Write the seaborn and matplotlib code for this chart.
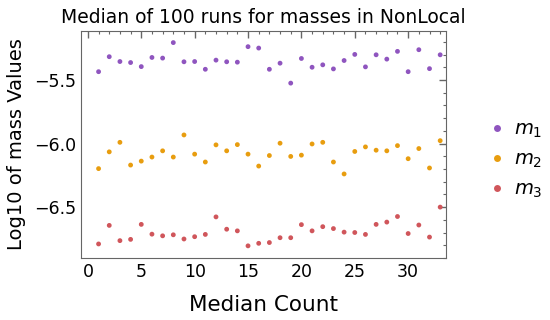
import numpy as np
import matplotlib.pyplot as plt
import pandas as pd
import seaborn as sns
from matplotlib.ticker import MultipleLocator

contagem = list(range(1, 34))

m1 = [-5.434, -5.316, -5.354, -5.362, -5.394, -5.322, -5.327, -5.205, -5.356, -5.354,
      -5.415, -5.343, -5.356, -5.359, -5.237, -5.248, -5.415, -5.367, -5.524, -5.330,
      -5.399, -5.380, -5.412, -5.346, -5.298, -5.396, -5.301, -5.335, -5.274, -5.434,
      -5.261, -5.410, -5.301]
m2 = [-6.197, -6.065, -5.990, -6.169, -6.138, -6.106, -6.057, -6.106, -5.932, -6.083,
      -6.145, -6.010, -6.057, -6.008, -6.083, -6.177, -6.094, -5.997, -6.101, -6.091,
      -6.003, -5.990, -6.145, -6.239, -6.062, -6.026, -6.052, -6.057, -6.016, -6.119,
      -6.039, -6.192, -5.977]
m3 = [-6.790, -6.644, -6.764, -6.754, -6.636, -6.713, -6.726, -6.718, -6.751, -6.733,
      -6.715, -6.577, -6.674, -6.687, -6.805, -6.785, -6.779, -6.741, -6.741, -6.638,
      -6.687, -6.654, -6.669, -6.697, -6.700, -6.715, -6.636, -6.618, -6.574, -6.708,
      -6.641, -6.736, -6.500]

rotulos = ["$m_1$", "$m_2$", "$m_3$"]
cores = ["#8f55bf", "#e89d0f", "#d0565b"]

dados = pd.DataFrame({
    "Median Count": contagem * 3,
    "valor": m1 + m2 + m3,
    "massa": [rotulos[0]] * 33 + [rotulos[1]] * 33 + [rotulos[2]] * 33,
})

sns.set_style("white")
plt.rcParams.update({"text.color": "black", "axes.labelcolor": "black",
                     "xtick.color": "black", "ytick.color": "black"})
fig = plt.figure(figsize=(5.5, 3.2), dpi=100)
ax = fig.add_axes([0.147, 0.194, 0.664, 0.709])

sns.scatterplot(data=dados, x="Median Count", y="valor", hue="massa",
                palette=cores, s=12, edgecolor="none", ax=ax, legend=False)

ax.set_xlim(-0.66, 33.55)
ax.set_ylim(-6.90, -5.114)
ax.xaxis.set_major_locator(MultipleLocator(5))
ax.xaxis.set_minor_locator(MultipleLocator(1))
ax.yaxis.set_major_locator(MultipleLocator(0.5))
ax.yaxis.set_minor_locator(MultipleLocator(0.1))
ax.tick_params(which="both", direction="in", top=True, right=True,
               color="#666666", labelcolor="black", labelsize=12.5)
ax.tick_params(which="major", length=5, width=1)
ax.tick_params(which="minor", length=2.5, width=0.8)
for lado in ax.spines.values():
    lado.set_color("#666666")

ax.set_xlabel("Median Count", fontsize=15.5, labelpad=10)
ax.set_ylabel("Log10 of mass Values", fontsize=14, labelpad=6)
ax.set_title("Median of 100 runs for masses in NonLocal", fontsize=13.5, pad=6)

marcas = [plt.Line2D([], [], ls="", marker="o", markersize=5, color=c,
                     markeredgewidth=0) for c in cores]
fig.legend(marcas, rotulos, loc="center left", bbox_to_anchor=(0.85, 0.5),
           frameon=False, fontsize=14, handletextpad=0.3, handlelength=1.2,
           labelspacing=0.5)

fig.savefig("out.png", dpi=100)
